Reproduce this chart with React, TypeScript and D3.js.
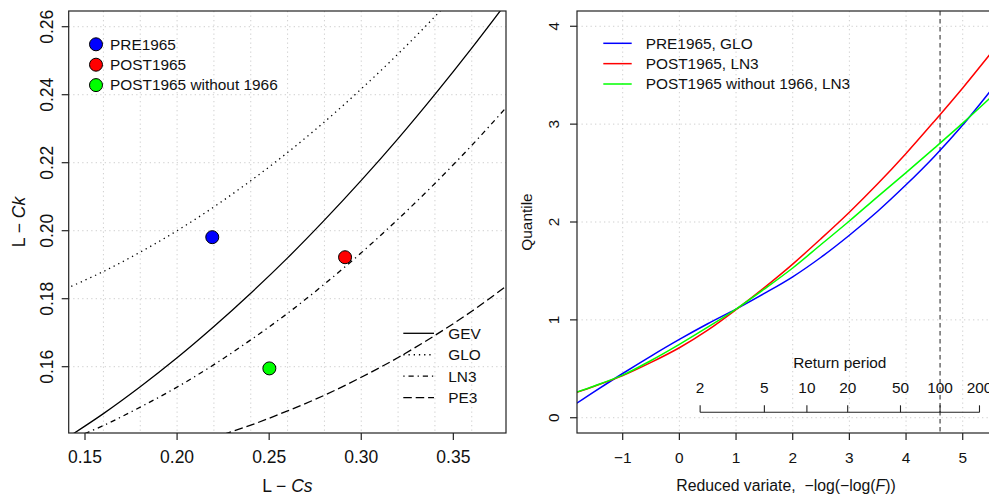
import React from "react";
import * as d3 from "d3";

// ---------- Left panel: L-moment ratio diagram ----------
const tau3Grid = [0.14, 0.16, 0.18, 0.2, 0.22, 0.24, 0.26, 0.28, 0.3, 0.32, 0.34, 0.36, 0.38];
const gevTau4 = [0.139, 0.1462, 0.1541, 0.1626, 0.1718, 0.1816, 0.192, 0.2031, 0.2148, 0.2271, 0.2401, 0.2537, 0.2679];
const gloTau4 = [0.183, 0.188, 0.1937, 0.2, 0.207, 0.2147, 0.223, 0.232, 0.2417, 0.252, 0.263, 0.2747, 0.287];
const ln3Tau4 = [0.1381, 0.1427, 0.1481, 0.154, 0.1606, 0.1679, 0.1757, 0.1843, 0.1935, 0.2034, 0.2139, 0.2251, 0.237];
const pe3Tau4 = [0.1287, 0.1307, 0.1331, 0.1359, 0.1392, 0.1428, 0.147, 0.1516, 0.1569, 0.1627, 0.1692, 0.1763, 0.1842];
const distNames = ["GEV", "GLO", "LN3", "PE3"];

const sampleNames = ["PRE1965", "POST1965", "POST1965 without 1966"];
const sampleLCs = [0.2191, 0.2912, 0.2501];
const sampleLCk = [0.1981, 0.1922, 0.1595];
const sampleColors = ["#0000FF", "#FF0000", "#00FF00"];

const leftXTicks = [0.15, 0.2, 0.25, 0.3, 0.35];
const leftYTicks = [0.16, 0.18, 0.2, 0.22, 0.24, 0.26];

// ---------- Right panel: quantile curves ----------
const reducedVariate = [-1.81, -1.5, -1, -0.5, 0, 0.5, 1, 1.5, 2, 2.5, 3, 3.5, 4, 4.5, 5, 5.6];
const pre1965GLO = [0.148, 0.267, 0.452, 0.63, 0.8, 0.96, 1.11, 1.27, 1.44, 1.64, 1.865, 2.11, 2.38, 2.67, 2.99, 3.42];
const post1965LN3 = [0.26, 0.322, 0.43, 0.565, 0.715, 0.895, 1.105, 1.33, 1.57, 1.83, 2.1, 2.39, 2.7, 3.03, 3.37, 3.8];
const post1965wo1966LN3 = [0.262, 0.325, 0.435, 0.585, 0.75, 0.925, 1.11, 1.315, 1.53, 1.77, 2.01, 2.26, 2.505, 2.755, 3.01, 3.33];
const curveNames = ["PRE1965, GLO", "POST1965, LN3", "POST1965 without 1966, LN3"];
const curveColors = ["#0000FF", "#FF0000", "#00FF00"];

const rightXTicks = [-1, 0, 1, 2, 3, 4, 5];
const rightYTicks = [0, 1, 2, 3, 4];
const returnPeriods = [2, 5, 10, 20, 50, 100, 200];
const markedReturnPeriod = 100;

const FONT = "'Liberation Sans', Arial, Helvetica, sans-serif";

export default function App() {
  // Left scales
  const lx = d3.scaleLinear().domain([0.14115, 0.37859]).range([68.7, 506]);
  const ly = d3.scaleLinear().domain([0.1405, 0.26462]).range([433, 11]);
  // Right scales
  const rx = d3.scaleLinear().domain([-1.8064, 5.5696]).range([577, 995]);
  const ry = d3.scaleLinear().domain([-0.156, 4.156]).range([433, 11]);

  const L = { x0: 68.7, x1: 506, y0: 11, y1: 433 };
  const R = { x0: 577, x1: 995, y0: 11, y1: 433 };

  const leftLine = (vals: number[]) =>
    d3
      .line<number>()
      .x((_, i) => lx(tau3Grid[i]))
      .y((v) => ly(v))
      .curve(d3.curveCatmullRom)(vals) || "";

  const rightLine = (vals: number[]) =>
    d3
      .line<number>()
      .x((_, i) => rx(reducedVariate[i]))
      .y((v) => ry(v))
      .curve(d3.curveCatmullRom)(vals) || "";

  const distSeries = [gevTau4, gloTau4, ln3Tau4, pe3Tau4];
  const distDash = ["", "1.3 3.9", "1.3 3.9 5.2 3.9", "8.5 3.9"];
  const seriesRight = [pre1965GLO, post1965LN3, post1965wo1966LN3];

  const gridStyle = { stroke: "#cfcfcf", strokeWidth: 1, strokeDasharray: "1.3 3.2" };
  const leftGridX = d3.range(0.16, 0.365, 0.02);
  const leftGridY = d3.range(0.16, 0.265, 0.02);

  const rpPos = (T: number) => -Math.log(-Math.log(1 - 1 / T));
  const rpY = 412.3;

  return (
    <div style={{ position: "absolute", left: 0, top: 0 }}>
      <svg width={989} height={499} style={{ display: "block", background: "#fff" }} fontFamily={FONT}>
        <defs>
          <clipPath id="clipL">
            <rect x={L.x0} y={L.y0} width={L.x1 - L.x0} height={L.y1 - L.y0} />
          </clipPath>
          <clipPath id="clipR">
            <rect x={R.x0} y={R.y0} width={R.x1 - R.x0} height={R.y1 - R.y0} />
          </clipPath>
        </defs>

        {/* ---------- LEFT PANEL ---------- */}
        <g>
          {leftGridX.map((v, i) => (
            <line key={"lgx" + i} x1={lx(v)} x2={lx(v)} y1={L.y0} y2={L.y1} style={gridStyle} />
          ))}
          {leftGridY.map((v, i) => (
            <line key={"lgy" + i} x1={L.x0} x2={L.x1} y1={ly(v)} y2={ly(v)} style={gridStyle} />
          ))}
          <g clipPath="url(#clipL)">
            {distSeries.map((s, i) => (
              <path
                key={"dist" + i}
                d={leftLine(s)}
                fill="none"
                stroke="#000"
                strokeWidth={1.3}
                strokeDasharray={distDash[i] || undefined}
              />
            ))}
            {sampleNames.map((n, i) => (
              <circle
                key={"pt" + i}
                cx={lx(sampleLCs[i])}
                cy={ly(sampleLCk[i])}
                r={6.5}
                fill={sampleColors[i]}
                stroke="#000"
                strokeWidth={1}
              />
            ))}
          </g>
          <rect x={L.x0} y={L.y0} width={L.x1 - L.x0} height={L.y1 - L.y0} fill="none" stroke="#222" strokeWidth={1.2} />
          {/* x axis */}
          {leftXTicks.map((t, i) => (
            <g key={"lxt" + i}>
              <line x1={lx(t)} x2={lx(t)} y1={L.y1} y2={L.y1 + 7} stroke="#222" strokeWidth={1.2} />
              <text x={lx(t)} y={457} dy="0.35em" textAnchor="middle" fontSize={17.5} fill="#111">
                {t.toFixed(2)}
              </text>
            </g>
          ))}
          {leftYTicks.map((t, i) => (
            <g key={"lyt" + i}>
              <line x1={L.x0 - 7} x2={L.x0} y1={ly(t)} y2={ly(t)} stroke="#222" strokeWidth={1.2} />
              <text
                transform={`translate(${46.7},${ly(t)}) rotate(-90)`}
                dy="0.35em"
                textAnchor="middle"
                fontSize={17.5}
                fill="#111"
              >
                {t.toFixed(2)}
              </text>
            </g>
          ))}
          <text x={(L.x0 + L.x1) / 2} y={486} dy="0.35em" textAnchor="middle" fontSize={17.5} fill="#111">
            L − <tspan fontStyle="italic">Cs</tspan>
          </text>
          <text
            transform={`translate(${18.5},${(L.y0 + L.y1) / 2}) rotate(-90)`}
            dy="0.35em"
            textAnchor="middle"
            fontSize={17.5}
            fill="#111"
          >
            L − <tspan fontStyle="italic">Ck</tspan>
          </text>
          {/* point legend */}
          {sampleNames.map((n, i) => (
            <g key={"pl" + i}>
              <circle cx={96} cy={44.3 + i * 20.4} r={6.5} fill={sampleColors[i]} stroke="#000" strokeWidth={1} />
              <text x={110} y={44.3 + i * 20.4} dy="0.35em" fontSize={15.4} fill="#111">
                {n}
              </text>
            </g>
          ))}
          {/* line legend */}
          {distNames.map((n, i) => (
            <g key={"ll" + i}>
              <line
                x1={403.3}
                x2={434}
                y1={333.3 + i * 21.45}
                y2={333.3 + i * 21.45}
                stroke="#000"
                strokeWidth={1.3}
                strokeDasharray={distDash[i] || undefined}
              />
              <text x={448.3} y={333.3 + i * 21.45} dy="0.35em" fontSize={15.4} fill="#111">
                {n}
              </text>
            </g>
          ))}
        </g>

        {/* ---------- RIGHT PANEL ---------- */}
        <g>
          {rightXTicks.map((v, i) => (
            <line key={"rgx" + i} x1={rx(v)} x2={rx(v)} y1={R.y0} y2={R.y1} style={gridStyle} />
          ))}
          {rightYTicks.map((v, i) => (
            <line key={"rgy" + i} x1={R.x0} x2={R.x1} y1={ry(v)} y2={ry(v)} style={gridStyle} />
          ))}
          <line
            x1={rx(rpPos(markedReturnPeriod))}
            x2={rx(rpPos(markedReturnPeriod))}
            y1={R.y0}
            y2={R.y1}
            stroke="#555"
            strokeWidth={1.3}
            strokeDasharray="4.5 3.5"
          />
          <g clipPath="url(#clipR)">
            {seriesRight.map((s, i) => (
              <path key={"rc" + i} d={rightLine(s)} fill="none" stroke={curveColors[i]} strokeWidth={1.5} />
            ))}
          </g>
          {/* return period axis */}
          <line x1={rx(rpPos(2))} x2={rx(rpPos(200))} y1={rpY} y2={rpY} stroke="#222" strokeWidth={1.1} />
          {returnPeriods.map((T, i) => (
            <g key={"rp" + i}>
              <line x1={rx(rpPos(T))} x2={rx(rpPos(T))} y1={rpY} y2={rpY - 7} stroke="#222" strokeWidth={1.1} />
              <text x={rx(rpPos(T))} y={388} dy="0.35em" textAnchor="middle" fontSize={15.4} fill="#111">
                {T}
              </text>
            </g>
          ))}
          <text
            x={(rx(rpPos(2)) + rx(rpPos(200))) / 2}
            y={362.7}
            dy="0.35em"
            textAnchor="middle"
            fontSize={15.4}
            fill="#111"
          >
            Return period
          </text>
          <rect x={R.x0} y={R.y0} width={R.x1 - R.x0} height={R.y1 - R.y0} fill="none" stroke="#222" strokeWidth={1.2} />
          {rightXTicks.map((t, i) => (
            <g key={"rxt" + i}>
              <line x1={rx(t)} x2={rx(t)} y1={R.y1} y2={R.y1 + 7} stroke="#222" strokeWidth={1.2} />
              <text x={rx(t)} y={458} dy="0.35em" textAnchor="middle" fontSize={15.4} fill="#111">
                {t < 0 ? "−" + Math.abs(t) : String(t)}
              </text>
            </g>
          ))}
          {rightYTicks.map((t, i) => (
            <g key={"ryt" + i}>
              <line x1={R.x0 - 7} x2={R.x0} y1={ry(t)} y2={ry(t)} stroke="#222" strokeWidth={1.2} />
              <text
                transform={`translate(${554},${ry(t)}) rotate(-90)`}
                dy="0.35em"
                textAnchor="middle"
                fontSize={15.4}
                fill="#111"
              >
                {t}
              </text>
            </g>
          ))}
          <text
            transform={`translate(${527},${(R.y0 + R.y1) / 2}) rotate(-90)`}
            dy="0.35em"
            textAnchor="middle"
            fontSize={15.4}
            fill="#111"
          >
            Quantile
          </text>
          <text x={786} y={485} dy="0.35em" textAnchor="middle" fontSize={15.8} fill="#111">
            Reduced variate,{"\u00a0\u00a0"}−log(−log(<tspan fontStyle="italic">F</tspan>))
          </text>
          {/* curve legend */}
          {curveNames.map((n, i) => (
            <g key={"rl" + i}>
              <line x1={603.3} x2={631.7} y1={43.3 + i * 20.35} y2={43.3 + i * 20.35} stroke={curveColors[i]} strokeWidth={1.5} />
              <text x={645.7} y={43.3 + i * 20.35} dy="0.35em" fontSize={15.4} fill="#111">
                {n}
              </text>
            </g>
          ))}
        </g>
      </svg>
    </div>
  );
}
